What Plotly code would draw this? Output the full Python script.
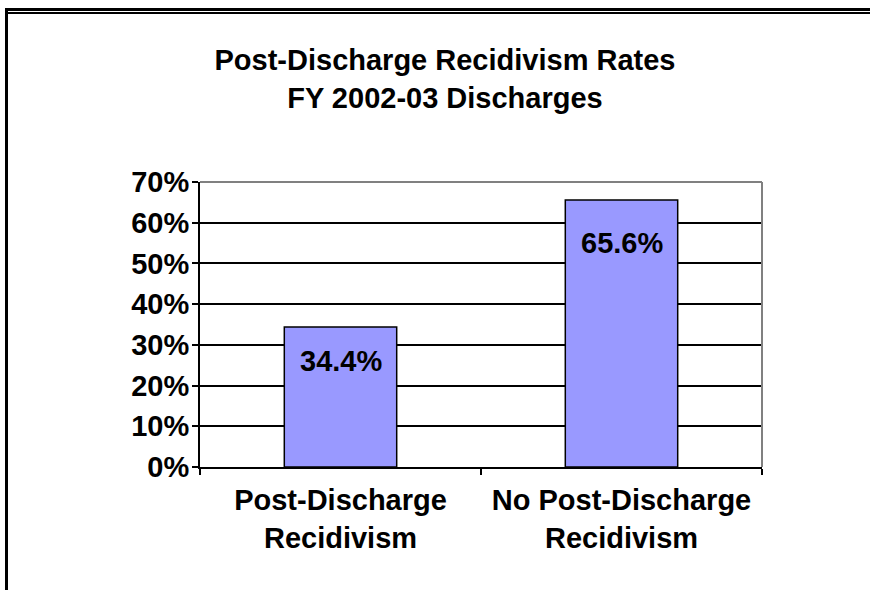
import plotly.graph_objects as go

categories = ["Post-Discharge<br>Recidivism", "No Post-Discharge<br>Recidivism"]
values = [34.4, 65.6]
value_labels = ["34.4%", "65.6%"]
y_tickvals = [0, 10, 20, 30, 40, 50, 60, 70]
y_ticktext = ["0%", "10%", "20%", "30%", "40%", "50%", "60%", "70%"]
title_lines = ["Post-Discharge Recidivism Rates", "FY 2002-03 Discharges"]

W, H = 870, 590
L, R, T, B = 200, 108, 182, 123
PW, PH = W - L - R, H - T - B
FONT = "Arial, Liberation Sans, sans-serif"
FS = 29


def px_x(px):
    return (px - L) / PW


def px_y(py):
    return (H - B - py) / PH


fig = go.Figure()
fig.add_trace(go.Bar(
    x=categories, y=values, width=0.4,
    marker=dict(color="#9999FF", line=dict(color="black", width=1.5)),
    hoverinfo="skip",
))

label_shift = [-16, -25]
for c, v, t, s in zip(categories, values, value_labels, label_shift):
    fig.add_annotation(x=c, y=v, text="<b>%s</b>" % t, showarrow=False,
                       yanchor="top", yshift=s,
                       font=dict(family=FONT, size=FS, color="black"))

shapes = [
    # plot area top/right border (gray)
    dict(type="line", xref="paper", yref="paper", x0=0, x1=1, y0=1, y1=1,
         line=dict(color="#808080", width=2)),
    dict(type="line", xref="paper", yref="paper", x0=1, x1=1, y0=0, y1=1,
         line=dict(color="#808080", width=2)),
    # outer frame
    dict(type="line", xref="paper", yref="paper", x0=px_x(5), x1=px_x(872),
         y0=px_y(9.5), y1=px_y(9.5), line=dict(color="black", width=3)),
    dict(type="line", xref="paper", yref="paper", x0=px_x(8), x1=px_x(872),
         y0=px_y(13), y1=px_y(13), line=dict(color="black", width=2)),
    dict(type="line", xref="paper", yref="paper", x0=px_x(6.5), x1=px_x(6.5),
         y0=px_y(8), y1=px_y(592), line=dict(color="black", width=3)),
]

fig.update_layout(
    width=W, height=H,
    margin=dict(l=L, r=R, t=T, b=B, pad=0),
    paper_bgcolor="white", plot_bgcolor="white",
    showlegend=False,
    bargap=0.6,
    font=dict(family=FONT, size=FS, color="black"),
    title=dict(text="<b>%s</b><br><b>%s</b>" % tuple(title_lines),
               x=445 / W, xref="container", xanchor="center",
               y=1 - 70 / H, yref="container", yanchor="middle",
               font=dict(family=FONT, size=FS, color="black")),
    shapes=shapes,
)

fig.update_xaxes(
    type="category", showgrid=False, showline=True, linecolor="black", linewidth=2,
    ticks="outside", tickson="boundaries", ticklen=6, tickwidth=2, tickcolor="black",
    tickfont=dict(family=FONT, size=FS, color="black"),
    tickvals=categories, ticktext=["<b>%s</b>" % c for c in categories],
    ticklabelstandoff=6,
    zeroline=False, fixedrange=True,
)
fig.update_yaxes(
    range=[0, 70], tickvals=y_tickvals, ticktext=["<b>%s</b>" % t for t in y_ticktext],
    showgrid=True, gridcolor="black", gridwidth=1.5,
    showline=True, linecolor="black", linewidth=2,
    ticks="outside", ticklen=6, tickwidth=2, tickcolor="black",
    tickfont=dict(family=FONT, size=FS, color="black"),
    ticklabelstandoff=-3,
    zeroline=False, fixedrange=True,
)

fig.write_html("out.html")
